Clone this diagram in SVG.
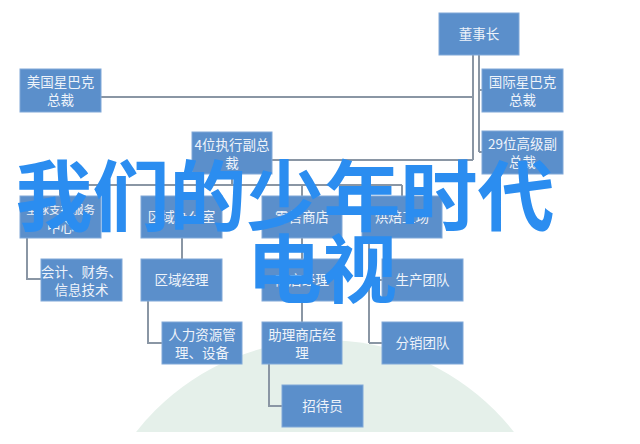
<svg xmlns="http://www.w3.org/2000/svg" width="640" height="444" viewBox="0 0 640 444">
<style>
.box{fill:#5b8fcb;stroke:#80a8d8;stroke-width:1}
.t{font-family:"Noto Sans CJK SC","Noto Sans",sans-serif;font-size:13.5px;fill:#eef3fa;text-anchor:middle}
.c{fill:none;stroke:#8a96a4;stroke-width:2}
.big{font-family:"Noto Sans CJK SC",sans-serif;font-weight:bold;fill:#2b8df0;text-anchor:middle}
</style>
<defs>
<clipPath id="wm"><rect x="0" y="0" width="640" height="432"/></clipPath>
</defs>
<rect width="640" height="444" fill="#ffffff"/>
<g id="watermark" clip-path="url(#wm)">
<circle cx="325" cy="580" r="240" fill="#e5f0ea"/>
</g>
<g id="connectors" class="c">
<path class="c" d="M473 55V160M101 97H473M272 160H473"/>
<path class="c" d="M479 55V152M479 90H482M479 152H482"/>
<path class="c" d="M232 174V185M60 185H402M60 185V196M182 185V196M302 185V196M402 185V196"/>
<path class="c" d="M27 238V279H41M182 238V259M302 238V259M369 238V343M369 280H382M369 343H382"/>
<path class="c" d="M148 301V343H162M302 301V322"/>
<path class="c" d="M269 364V406H282"/>
</g>
<g id="n1"><rect class="box" x="439" y="13" width="80" height="42"/><text class="t" x="479" y="39">董事长</text></g>
<g id="n2"><rect class="box" x="20" y="69" width="81" height="43"/><text class="t" x="60.5" y="87">美国星巴克</text><text class="t" x="60.5" y="105">总裁</text></g>
<g id="n3"><rect class="box" x="482" y="69" width="81" height="43"/><text class="t" x="522.5" y="87">国际星巴克</text><text class="t" x="522.5" y="105">总裁</text></g>
<g id="n4"><rect class="box" x="482" y="131" width="81" height="43"/><text class="t" x="522.5" y="149">29位高级副</text><text class="t" x="522.5" y="167">总裁</text></g>
<g id="n5"><rect class="box" x="192" y="132" width="80" height="42"/><text class="t" x="232" y="150">4位执行副总</text><text class="t" x="232" y="168">裁</text></g>
<g id="n6"><rect class="box" x="20" y="196" width="81" height="42"/><text class="t" x="60.5" y="214" style="font-size:11.5px">全球支持服务</text><text class="t" x="60.5" y="232">中心</text></g>
<g id="n7"><rect class="box" x="141" y="196" width="81" height="42"/><text class="t" x="181.5" y="222">区域办公室</text></g>
<g id="n8"><rect class="box" x="262" y="196" width="80" height="42"/><text class="t" x="302" y="222">零售商店</text></g>
<g id="n9"><rect class="box" x="362" y="196" width="80" height="42"/><text class="t" x="402" y="222">烘焙工场</text></g>
<g id="n10"><rect class="box" x="41" y="259" width="81" height="42"/><text class="t" x="81.5" y="277">会计、财务、</text><text class="t" x="81.5" y="295">信息技术</text></g>
<g id="n11"><rect class="box" x="141" y="259" width="81" height="42"/><text class="t" x="181.5" y="285">区域经理</text></g>
<g id="n12"><rect class="box" x="262" y="259" width="80" height="42"/><text class="t" x="302" y="285">商店经理</text></g>
<g id="n13"><rect class="box" x="382" y="259" width="81" height="42"/><text class="t" x="422.5" y="285">生产团队</text></g>
<g id="n14"><rect class="box" x="162" y="322" width="80" height="42"/><text class="t" x="202" y="340">人力资源管</text><text class="t" x="202" y="358">理、设备</text></g>
<g id="n15"><rect class="box" x="262" y="322" width="80" height="42"/><text class="t" x="302" y="340">助理商店经</text><text class="t" x="302" y="358">理</text></g>
<g id="n16"><rect class="box" x="382" y="322" width="81" height="42"/><text class="t" x="422.5" y="348">分销团队</text></g>
<g id="n17"><rect class="box" x="282" y="385" width="81" height="42"/><text class="t" x="322.5" y="411">招待员</text></g>
<g id="overlay">
<text class="big" x="285" y="225" style="font-size:77px">我们的少年时代</text>
<text class="big" x="322" y="297" style="font-size:75px">电视</text>
</g>
</svg>
